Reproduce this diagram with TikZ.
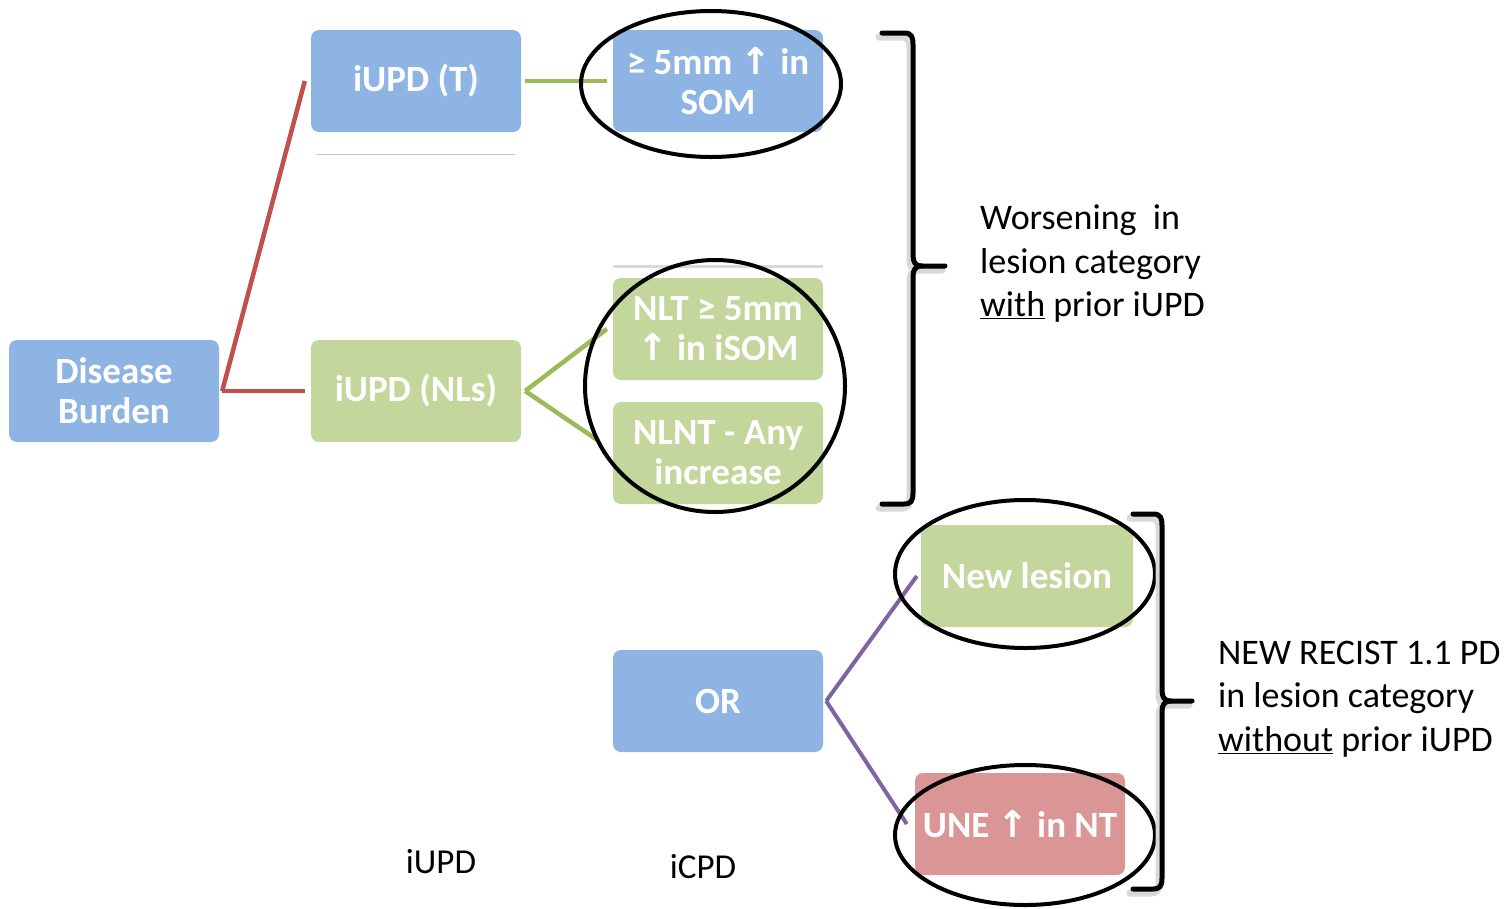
\documentclass[tikz,border=0pt]{standalone}
\usepackage{fontspec}
\setmainfont{Carlito}
\newfontfamily\symfont{DejaVu Sans}
\newcommand{\uparr}{{\symfont\bfseries ↑}}
\definecolor{boxblue}{HTML}{8EB4E3}
\definecolor{boxgreen}{HTML}{C3D69B}
\definecolor{boxpink}{HTML}{D99694}
\definecolor{linered}{HTML}{C0504D}
\definecolor{linegreen}{HTML}{9BBB59}
\definecolor{linepurple}{HTML}{8064A2}
\begin{document}
\begin{tikzpicture}[x=1pt,y=-1pt,
  boxbase/.style={rounded corners=8pt, minimum width=210pt, minimum height=102pt, inner sep=0pt,
    text=white, font=\fontsize{37}{40}\selectfont\bfseries, align=center},
  bluebox/.style={boxbase, fill=boxblue},
  greenbox/.style={boxbase, fill=boxgreen},
  pinkbox/.style={boxbase, fill=boxpink},
  redline/.style={draw=linered, line width=4.5pt},
  greenline/.style={draw=linegreen, line width=4.5pt},
  purpleline/.style={draw=linepurple, line width=4pt},
  ring/.style={draw=black, line width=4pt},
  brk/.style={draw=black, line width=5pt, line cap=round, line join=round},
  brkshadow/.style={draw=black!15, line width=7pt, line cap=round, line join=round},
  note/.style={font=\fontsize{36}{43.5}\selectfont, align=left, inner sep=0pt, anchor=west, text=black},
  lbl/.style={font=\fontsize{35}{40}\selectfont, inner sep=0pt, text=black}
]
\useasboundingbox (0,0) rectangle (1504,908);
\fill[white] (0,0) rectangle (1504,908);

% faint guide lines
\draw[black!22, line width=1pt] (316,154) -- (515,154);
\draw[black!15, line width=3pt] (613,266) -- (823,266);

% boxes
\node[bluebox]  (db)   at (114,391)  {Disease\\Burden};
\node[bluebox]  (it)   at (416,81)   {iUPD (T)};
\node[greenbox] (inl)  at (416,391)  {iUPD (NLs)};
\node[bluebox]  (som)  at (718,81)   {≥ 5mm \uparr{} in\\SOM};
\node[greenbox] (nlt)  at (718,329)  {NLT ≥ 5mm\\\uparr{} in iSOM};
\node[greenbox] (nlnt) at (718,453)  {NLNT - Any\\increase};
\node[greenbox, minimum width=212pt] (new) at (1027,576) {New lesion};
\node[bluebox]  (or)   at (718,701)  {OR};
\node[pinkbox]  (une)  at (1020,824) {UNE \uparr{} in NT};

% connectors
\draw[redline] ([xshift=3pt]db.east) -- ([xshift=-6pt]it.west);
\draw[redline] ([xshift=3pt]db.east) -- ([xshift=-6pt]inl.west);
\draw[greenline] ([xshift=4pt]it.east) -- ([xshift=-6pt]som.west);
\draw[greenline] ([xshift=4pt]inl.east) -- ([xshift=-6pt]nlt.west);
\draw[greenline] ([xshift=4pt]inl.east) -- ([xshift=-14pt,yshift=12pt]nlnt.west);
\draw[purpleline] ([xshift=3pt]or.east) -- ([xshift=-4pt]new.west);
\draw[purpleline] ([xshift=3pt]or.east) -- ([xshift=-8pt]une.west);

% rings
\draw[ring] (711,84) ellipse [x radius=130pt, y radius=73pt];
\draw[ring] (715,386) ellipse [x radius=130pt, y radius=126pt];
\draw[ring] (1025,574) ellipse [x radius=130pt, y radius=74pt];
\draw[ring] (1025,835) ellipse [x radius=130pt, y radius=70pt];

% bracket 1
\begin{scope}[shift={(-3,4)}]
\draw[brkshadow] (882,33) -- (904,33) .. controls (912,33) and (913,37) .. (913,45) -- (913,255)
  .. controls (913,262) and (915,266) .. (922,266) -- (945,266);
\draw[brkshadow] (922,266) .. controls (915,266) and (913,270) .. (913,277) -- (913,493)
  .. controls (913,501) and (911,504) .. (904,504) -- (882,504);
\end{scope}
\draw[brk] (882,33) -- (904,33) .. controls (912,33) and (913,37) .. (913,45) -- (913,255)
  .. controls (913,262) and (915,266) .. (922,266) -- (945,266);
\draw[brk] (922,266) .. controls (915,266) and (913,270) .. (913,277) -- (913,493)
  .. controls (913,501) and (911,504) .. (904,504) -- (882,504);

% bracket 2
\begin{scope}[shift={(-3,4)}]
\draw[brkshadow] (1133,514) -- (1153,514) .. controls (1161,514) and (1162,518) .. (1162,526) -- (1162,690)
  .. controls (1162,697) and (1164,701) .. (1171,701) -- (1192,701);
\draw[brkshadow] (1171,701) .. controls (1164,701) and (1162,705) .. (1162,712) -- (1162,878)
  .. controls (1162,886) and (1160,889) .. (1153,889) -- (1133,889);
\end{scope}
\draw[brk] (1133,514) -- (1153,514) .. controls (1161,514) and (1162,518) .. (1162,526) -- (1162,690)
  .. controls (1162,697) and (1164,701) .. (1171,701) -- (1192,701);
\draw[brk] (1171,701) .. controls (1164,701) and (1162,705) .. (1162,712) -- (1162,878)
  .. controls (1162,886) and (1160,889) .. (1153,889) -- (1133,889);

% annotations
\node[note] (t1) at (980,264) {Worsening\ \ in\\lesion category\\\underline{with} prior iUPD};
\node[note] (t2) at (1218,699) {NEW RECIST 1.1 PD\\in lesion category\\\underline{without} prior iUPD};
\node[lbl] (l1) at (441,862) {iUPD};
\node[lbl] (l2) at (703,867) {iCPD};
\end{tikzpicture}
\end{document}
